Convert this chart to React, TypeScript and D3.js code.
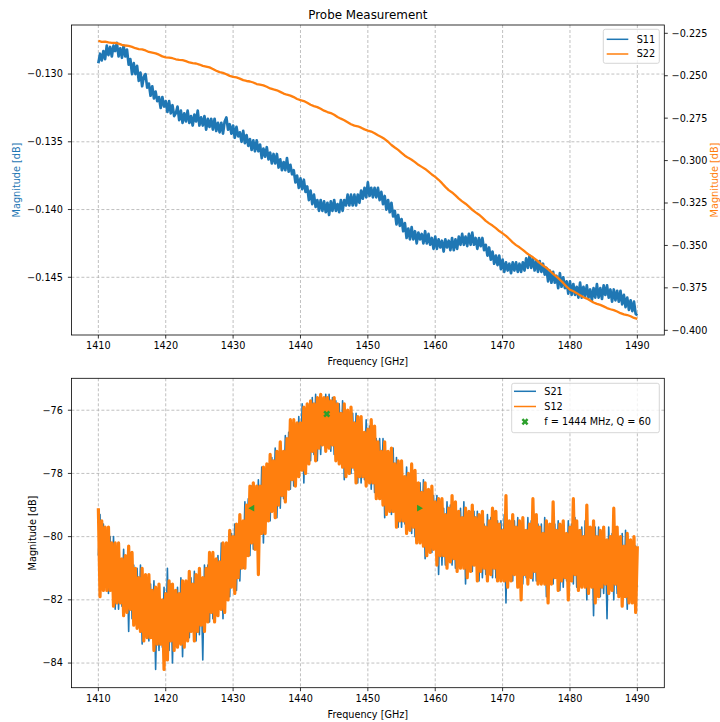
import React from 'react';
import * as d3 from 'd3';

// ---------------- DATA ----------------
const FREQ_START = 1410;
const FINE_STEP = 0.25; // GHz, S11 / S21 / S12
const COARSE_STEP = 0.5; // GHz, S22

const xTicks = [1410, 1420, 1430, 1440, 1450, 1460, 1470, 1480, 1490];
const topLeftTicks = [-0.145, -0.14, -0.135, -0.13];
const topRightTicks = [-0.4, -0.375, -0.35, -0.325, -0.3, -0.275, -0.25, -0.225];
const bottomTicks = [-84, -82, -80, -78, -76];

const s11: number[] = [
  -0.1292, -0.1285, -0.1290, -0.1283, -0.1289, -0.1279, -0.1286, -0.1280, -0.1287, -0.1279, -0.1283, -0.1277,
  -0.1287, -0.1281, -0.1288, -0.1279, -0.1287, -0.1282, -0.1293, -0.1289, -0.1300, -0.1292, -0.1300, -0.1294,
  -0.1305, -0.1299, -0.1309, -0.1302, -0.1300, -0.1310, -0.1307, -0.1316, -0.1309, -0.1318, -0.1313, -0.1320,
  -0.1317, -0.1325, -0.1317, -0.1324, -0.1320, -0.1328, -0.1320, -0.1329, -0.1323, -0.1331, -0.1329, -0.1324,
  -0.1334, -0.1327, -0.1336, -0.1329, -0.1335, -0.1327, -0.1336, -0.1331, -0.1338, -0.1330, -0.1335, -0.1327,
  -0.1338, -0.1332, -0.1338, -0.1331, -0.1341, -0.1333, -0.1339, -0.1333, -0.1341, -0.1333, -0.1342, -0.1336,
  -0.1343, -0.1336, -0.1344, -0.1335, -0.1332, -0.1341, -0.1337, -0.1344, -0.1338, -0.1347, -0.1339, -0.1346,
  -0.1343, -0.1350, -0.1342, -0.1351, -0.1345, -0.1353, -0.1348, -0.1356, -0.1349, -0.1357, -0.1349, -0.1357,
  -0.1352, -0.1362, -0.1355, -0.1361, -0.1354, -0.1363, -0.1358, -0.1366, -0.1359, -0.1366, -0.1359, -0.1369,
  -0.1363, -0.1371, -0.1365, -0.1371, -0.1362, -0.1372, -0.1367, -0.1374, -0.1371, -0.1380, -0.1375, -0.1384,
  -0.1377, -0.1385, -0.1378, -0.1387, -0.1383, -0.1393, -0.1386, -0.1396, -0.1389, -0.1398, -0.1393, -0.1401,
  -0.1393, -0.1401, -0.1394, -0.1402, -0.1395, -0.1404, -0.1394, -0.1401, -0.1393, -0.1401, -0.1396, -0.1402,
  -0.1393, -0.1401, -0.1393, -0.1397, -0.1389, -0.1397, -0.1389, -0.1397, -0.1389, -0.1397, -0.1389, -0.1395,
  -0.1386, -0.1392, -0.1384, -0.1391, -0.1380, -0.1390, -0.1384, -0.1391, -0.1384, -0.1391, -0.1384, -0.1393,
  -0.1387, -0.1396, -0.1390, -0.1400, -0.1393, -0.1402, -0.1395, -0.1405, -0.1401, -0.1411, -0.1404, -0.1412,
  -0.1407, -0.1416, -0.1410, -0.1421, -0.1414, -0.1422, -0.1413, -0.1422, -0.1416, -0.1425, -0.1417, -0.1422,
  -0.1418, -0.1425, -0.1416, -0.1425, -0.1418, -0.1426, -0.1421, -0.1429, -0.1420, -0.1429, -0.1422, -0.1428,
  -0.1423, -0.1431, -0.1422, -0.1428, -0.1423, -0.1430, -0.1421, -0.1430, -0.1422, -0.1429, -0.1420, -0.1426,
  -0.1418, -0.1426, -0.1420, -0.1427, -0.1418, -0.1426, -0.1417, -0.1426, -0.1421, -0.1429, -0.1421, -0.1427,
  -0.1421, -0.1430, -0.1426, -0.1434, -0.1428, -0.1437, -0.1431, -0.1440, -0.1434, -0.1441, -0.1434, -0.1444,
  -0.1437, -0.1446, -0.1439, -0.1445, -0.1440, -0.1447, -0.1439, -0.1445, -0.1439, -0.1446, -0.1440, -0.1446,
  -0.1439, -0.1445, -0.1436, -0.1443, -0.1434, -0.1443, -0.1436, -0.1445, -0.1438, -0.1446, -0.1438, -0.1446,
  -0.1440, -0.1448, -0.1443, -0.1453, -0.1445, -0.1454, -0.1446, -0.1454, -0.1449, -0.1458, -0.1447, -0.1457,
  -0.1450, -0.1458, -0.1453, -0.1462, -0.1453, -0.1463, -0.1455, -0.1463, -0.1457, -0.1465, -0.1454, -0.1465,
  -0.1457, -0.1464, -0.1456, -0.1465, -0.1459, -0.1467, -0.1458, -0.1465, -0.1455, -0.1465, -0.1458, -0.1466,
  -0.1456, -0.1463, -0.1456, -0.1465, -0.1459, -0.1468, -0.1459, -0.1467, -0.1460, -0.1468, -0.1460, -0.1470,
  -0.1463, -0.1472, -0.1465, -0.1474, -0.1467, -0.1475, -0.1468, -0.1477, -0.1478,
];

const s22: number[] = [
  -0.2294, -0.2301, -0.2299, -0.2304, -0.2306, -0.2307, -0.2311, -0.2318, -0.2322, -0.2324,
  -0.2330, -0.2338, -0.2343, -0.2345, -0.2351, -0.2360, -0.2364, -0.2368, -0.2376, -0.2386,
  -0.2392, -0.2393, -0.2397, -0.2403, -0.2406, -0.2408, -0.2414, -0.2422, -0.2426, -0.2428,
  -0.2434, -0.2442, -0.2446, -0.2451, -0.2460, -0.2471, -0.2479, -0.2483, -0.2491, -0.2501,
  -0.2507, -0.2510, -0.2517, -0.2526, -0.2531, -0.2534, -0.2540, -0.2549, -0.2553, -0.2557,
  -0.2565, -0.2575, -0.2581, -0.2586, -0.2595, -0.2605, -0.2612, -0.2617, -0.2626, -0.2637,
  -0.2644, -0.2649, -0.2659, -0.2671, -0.2679, -0.2685, -0.2695, -0.2706, -0.2714, -0.2720,
  -0.2730, -0.2743, -0.2753, -0.2762, -0.2774, -0.2786, -0.2794, -0.2798, -0.2806, -0.2816,
  -0.2823, -0.2829, -0.2839, -0.2851, -0.2861, -0.2873, -0.2889, -0.2908, -0.2923, -0.2937,
  -0.2954, -0.2971, -0.2984, -0.2995, -0.3009, -0.3025, -0.3037, -0.3049, -0.3065, -0.3082,
  -0.3096, -0.3113, -0.3133, -0.3155, -0.3174, -0.3188, -0.3205, -0.3224, -0.3240, -0.3254,
  -0.3271, -0.3290, -0.3305, -0.3319, -0.3336, -0.3355, -0.3370, -0.3383, -0.3398, -0.3415,
  -0.3429, -0.3444, -0.3462, -0.3482, -0.3498, -0.3511, -0.3526, -0.3543, -0.3557, -0.3570,
  -0.3585, -0.3603, -0.3618, -0.3632, -0.3649, -0.3668, -0.3684, -0.3702, -0.3721, -0.3743,
  -0.3761, -0.3770, -0.3781, -0.3794, -0.3805, -0.3813, -0.3824, -0.3836, -0.3844, -0.3850,
  -0.3859, -0.3869, -0.3876, -0.3881, -0.3889, -0.3899, -0.3906, -0.3910, -0.3917, -0.3927,
  -0.3933,
];

const s21: number[] = [
  -80.6, -79.3, -81.5, -79.6, -81.5, -79.9, -81.8, -80.0, -81.7, -80.0, -82.3, -80.5,
  -82.3, -80.7, -82.2, -80.4, -82.1, -80.6, -83.0, -80.5, -82.6, -80.9, -82.4, -81.0,
  -82.8, -80.9, -83.4, -81.3, -83.0, -81.4, -83.3, -81.5, -83.2, -81.4, -84.2, -81.8,
  -83.6, -82.0, -83.5, -81.6, -83.3, -81.0, -83.6, -81.5, -84.0, -81.7, -83.1, -81.6,
  -83.3, -81.3, -83.8, -81.5, -83.2, -81.5, -83.2, -81.3, -83.0, -81.1, -83.3, -81.4,
  -83.1, -81.4, -83.9, -80.9, -82.5, -80.9, -82.7, -80.6, -82.6, -80.8, -82.1, -80.6,
  -82.3, -80.2, -82.6, -80.4, -82.0, -80.2, -81.9, -79.9, -81.5, -79.6, -81.7, -79.7,
  -81.4, -79.6, -81.0, -78.9, -80.5, -78.8, -80.6, -78.4, -80.4, -78.5, -79.8, -78.2,
  -79.9, -77.8, -80.2, -77.9, -79.5, -77.7, -79.5, -77.5, -79.1, -77.2, -79.4, -77.4,
  -79.1, -77.3, -78.8, -76.8, -78.4, -76.7, -78.5, -76.4, -78.4, -76.5, -77.8, -76.2,
  -77.9, -75.8, -78.3, -76.0, -77.6, -75.9, -77.6, -75.6, -77.4, -75.5, -77.6, -75.6,
  -77.4, -75.7, -77.1, -75.5, -76.9, -75.5, -77.3, -75.6, -77.4, -75.7, -77.2, -75.8,
  -77.6, -75.7, -78.2, -76.1, -77.8, -76.2, -78.0, -76.1, -77.9, -76.1, -78.3, -76.5,
  -78.3, -76.7, -78.2, -76.3, -78.1, -76.5, -78.5, -76.5, -78.6, -76.9, -78.4, -76.9,
  -78.8, -76.9, -79.4, -77.3, -79.1, -77.4, -79.3, -77.2, -79.2, -77.5, -79.7, -77.8,
  -79.7, -78.1, -79.6, -77.8, -79.5, -78.0, -79.9, -78.1, -80.0, -78.3, -79.7, -78.3,
  -80.1, -78.2, -80.7, -78.6, -80.3, -78.7, -80.5, -78.7, -80.4, -78.7, -81.2, -79.0,
  -80.9, -79.1, -80.9, -78.9, -80.6, -79.0, -80.9, -79.1, -81.0, -79.2, -80.6, -79.1,
  -80.9, -78.9, -81.5, -79.3, -81.0, -79.3, -81.1, -79.2, -80.9, -79.2, -81.4, -79.5,
  -81.3, -79.6, -81.2, -79.3, -81.0, -79.4, -81.3, -79.2, -81.3, -79.5, -81.0, -79.5,
  -81.3, -79.3, -82.1, -79.6, -81.3, -79.6, -81.4, -79.5, -81.2, -79.4, -81.6, -79.7,
  -81.5, -79.8, -81.3, -79.4, -81.1, -79.5, -81.4, -79.3, -81.4, -79.6, -81.1, -79.6,
  -81.4, -79.4, -81.9, -79.7, -81.4, -79.7, -81.5, -79.6, -81.3, -79.5, -81.7, -79.8,
  -81.6, -79.9, -81.4, -79.5, -81.2, -79.6, -81.5, -79.4, -81.6, -79.8, -81.2, -79.7,
  -81.5, -79.5, -82.0, -79.8, -81.5, -79.8, -82.5, -79.7, -81.5, -79.7, -81.9, -80.0,
  -81.8, -80.1, -82.6, -79.7, -81.5, -79.9, -82.0, -79.7, -81.8, -80.0, -81.4, -79.9,
  -81.8, -79.8, -82.3, -80.1, -81.9, -80.3, -82.1, -80.3, -81.6,
];

const s12: number[] = [
  -79.1, -81.9, -79.5, -81.7, -79.7, -81.7, -79.7, -81.7, -80.2, -82.2, -80.2, -82.1,
  -80.2, -82.1, -80.7, -82.5, -80.6, -82.4, -80.3, -82.3, -80.5, -82.8, -81.0, -82.9,
  -81.3, -83.0, -81.0, -83.3, -81.2, -83.2, -81.2, -83.2, -81.7, -83.6, -81.6, -83.4,
  -81.5, -83.4, -82.0, -84.2, -81.8, -83.9, -81.4, -83.3, -81.5, -83.6, -81.7, -83.5,
  -81.8, -83.4, -81.4, -83.5, -81.4, -83.3, -81.1, -83.0, -81.5, -83.3, -81.2, -83.0,
  -81.0, -82.8, -81.3, -83.0, -81.0, -82.7, -80.5, -82.4, -80.5, -82.7, -80.7, -82.5,
  -80.8, -82.3, -80.2, -82.4, -80.2, -82.0, -79.8, -81.6, -80.0, -81.8, -79.6, -81.3,
  -79.3, -81.0, -79.5, -81.0, -79.0, -80.6, -78.4, -80.2, -78.3, -80.4, -78.4, -81.2,
  -78.4, -79.9, -77.8, -79.9, -77.7, -79.5, -77.4, -79.2, -77.6, -79.4, -77.3, -79.0,
  -77.0, -78.7, -77.3, -78.9, -76.9, -78.5, -76.3, -78.2, -76.3, -78.4, -76.4, -78.1,
  -76.4, -77.9, -75.9, -78.0, -75.8, -77.7, -75.7, -77.3, -75.8, -77.6, -75.6, -77.2,
  -75.5, -77.1, -75.6, -77.3, -75.6, -77.2, -75.7, -77.1, -75.6, -77.6, -75.8, -77.7,
  -76.1, -77.8, -75.8, -78.1, -76.0, -78.0, -75.9, -77.8, -76.4, -78.3, -76.2, -78.1,
  -76.2, -78.1, -76.7, -78.4, -76.6, -78.3, -76.3, -78.3, -76.5, -78.8, -77.0, -78.8,
  -77.3, -79.0, -77.0, -79.3, -77.3, -79.2, -77.2, -79.2, -77.7, -79.7, -77.6, -79.5,
  -77.6, -79.5, -78.1, -79.9, -78.0, -79.8, -77.7, -79.7, -77.9, -80.2, -78.3, -80.2,
  -78.6, -80.3, -78.3, -80.6, -78.5, -80.5, -78.4, -80.4, -78.9, -80.9, -78.8, -80.6,
  -78.8, -80.6, -79.3, -81.0, -79.1, -80.8, -78.7, -80.7, -78.9, -81.1, -79.2, -81.0,
  -79.4, -81.0, -79.1, -81.3, -79.2, -81.1, -79.0, -80.9, -79.4, -81.4, -79.3, -81.1,
  -79.2, -81.0, -79.7, -81.4, -79.5, -81.2, -79.1, -81.0, -79.2, -81.4, -79.6, -81.4,
  -79.8, -81.4, -78.7, -81.6, -79.5, -81.4, -79.3, -81.2, -79.7, -81.6, -79.5, -82.0,
  -79.4, -81.2, -79.8, -81.5, -79.6, -81.3, -78.8, -81.1, -79.3, -81.5, -79.7, -81.5,
  -79.9, -81.5, -79.5, -82.1, -79.6, -81.5, -78.9, -81.3, -79.8, -81.7, -79.6, -81.4,
  -79.5, -81.3, -79.9, -82.0, -79.7, -81.4, -78.8, -81.2, -79.5, -81.7, -79.8, -81.6,
  -80.0, -81.6, -79.0, -81.8, -79.7, -81.6, -79.5, -82.1, -80.0, -81.9, -79.8, -81.6,
  -79.7, -81.5, -80.1, -81.8, -80.0, -81.7, -79.1, -81.5, -79.7, -81.9, -80.0, -82.2,
  -80.3, -81.9, -79.9, -82.1, -80.1, -82.1, -80.0, -82.4, -80.3,
];

const markerFreqs = [1432.85, 1443.9, 1457.6];
const markerMags = [-79.1, -76.12, -79.1];
const markerShapes = ['<', 'X', '>'];

const topLegend = ['S11', 'S22'];
const bottomLegend = ['S21', 'S12', 'f = 1444 MHz, Q = 60'];

// ---------------- STYLE ----------------
const BLUE = '#1f77b4';
const ORANGE = '#ff7f0e';
const GREEN = '#2ca02c';
const FONT = '"DejaVu Sans", sans-serif';
const TICK_FS = 9.7;

const fmt = (v: number, d: number) => (v < 0 ? '\u2212' : '') + Math.abs(v).toFixed(d);

function markerPath(shape: string): { d: string; rot: number } {
  if (shape === 'X') return { d: d3.symbol(d3.symbolCross, 30)() as string, rot: 45 };
  return { d: d3.symbol(d3.symbolTriangle, 20)() as string, rot: shape === '<' ? -90 : 90 };
}

export default function App() {
  const fineF = s11.map((_, i) => FREQ_START + i * FINE_STEP);
  const coarseF = s22.map((_, i) => FREQ_START + i * COARSE_STEP);
  const fineF2 = s21.map((_, i) => FREQ_START + i * FINE_STEP);

  const L = 71.4, R = 664.3;
  const T1 = 25, B1 = 335;
  const T2 = 378.3, B2 = 687.7;

  const x = d3.scaleLinear().domain([1406, 1494]).range([L, R]);
  const yL = d3.scaleLinear().domain([-0.14926, -0.12638]).range([B1, T1]);
  const yR = d3.scaleLinear().domain([-0.40277, -0.22011]).range([B1, T1]);
  const yB = d3.scaleLinear().domain([-84.78, -74.99]).range([B2, T2]);

  const lineS11 = d3.line<number>().x((_, i) => x(fineF[i])).y((d) => yL(d))(s11) as string;
  const lineS22 = d3.line<number>().x((_, i) => x(coarseF[i])).y((d) => yR(d))(s22) as string;
  const lineS21 = d3.line<number>().x((_, i) => x(fineF2[i])).y((d) => yB(d))(s21) as string;
  const lineS12 = d3.line<number>().x((_, i) => x(fineF2[i])).y((d) => yB(d))(s12) as string;

  const grid = { stroke: '#b0b0b0', strokeWidth: 0.8, strokeDasharray: '3,2' };
  const textStyle = { fontFamily: FONT, fontSize: TICK_FS, fill: '#000' } as const;

  const xAxis = (bottom: number) => (
    <g>
      {xTicks.map((t) => (
        <g key={t}>
          <line x1={x(t)} x2={x(t)} y1={bottom} y2={bottom + 3.5} stroke="#000" strokeWidth={0.8} />
          <text x={x(t)} y={bottom + 14.3} textAnchor="middle" style={textStyle}>{t}</text>
        </g>
      ))}
      <text x={(L + R) / 2} y={bottom + 30} textAnchor="middle" style={textStyle}>Frequency [GHz]</text>
    </g>
  );

  return (
    <svg width={720} height={722} style={{ position: 'absolute', left: 0, top: 0, background: '#fff' }}>
      <defs>
        <clipPath id="clipTop"><rect x={L} y={T1} width={R - L} height={B1 - T1} /></clipPath>
        <clipPath id="clipBot"><rect x={L} y={T2} width={R - L} height={B2 - T2} /></clipPath>
      </defs>
      <rect x={0} y={0} width={720} height={722} fill="#fff" />

      {/* ---------- TOP PANEL ---------- */}
      <text x={(L + R) / 2} y={19.3} textAnchor="middle" style={{ fontFamily: FONT, fontSize: 11.9, fill: '#000' }}>Probe Measurement</text>
      {xTicks.map((t) => <line key={'gx' + t} x1={x(t)} x2={x(t)} y1={T1} y2={B1} {...grid} />)}
      {topLeftTicks.map((t) => <line key={'gy' + t} x1={L} x2={R} y1={yL(t)} y2={yL(t)} {...grid} />)}
      <g clipPath="url(#clipTop)">
        <path d={lineS11} fill="none" stroke={BLUE} strokeWidth={2.7} strokeLinejoin="round" />
        <path d={lineS22} fill="none" stroke={ORANGE} strokeWidth={2.3} strokeLinejoin="round" />
      </g>
      <rect x={L} y={T1} width={R - L} height={B1 - T1} fill="none" stroke="#000" strokeWidth={0.8} />
      {xAxis(B1)}
      {topLeftTicks.map((t) => (
        <g key={'lt' + t}>
          <line x1={L - 3.5} x2={L} y1={yL(t)} y2={yL(t)} stroke="#000" strokeWidth={0.8} />
          <text x={L - 8.5} y={yL(t)} dy="0.35em" textAnchor="end" style={textStyle}>{fmt(t, 3)}</text>
        </g>
      ))}
      {topRightTicks.map((t) => (
        <g key={'rt' + t}>
          <line x1={R} x2={R + 3.5} y1={yR(t)} y2={yR(t)} stroke="#000" strokeWidth={0.8} />
          <text x={R + 7.3} y={yR(t)} dy="0.35em" textAnchor="start" style={textStyle}>{fmt(t, 3)}</text>
        </g>
      ))}
      <text transform={`translate(16.7,${(T1 + B1) / 2}) rotate(-90)`} textAnchor="middle" dy="0.35em"
        style={{ fontFamily: FONT, fontSize: TICK_FS, fill: BLUE }}>Magnitude [dB]</text>
      <text transform={`translate(714.2,${(T1 + B1) / 2}) rotate(-90)`} textAnchor="middle" dy="0.35em"
        style={{ fontFamily: FONT, fontSize: TICK_FS, fill: ORANGE }}>Magnitude [dB]</text>
      {/* top legend */}
      <g>
        <rect x={603.3} y={29.3} width={56} height={34} rx={2} fill="#fff" fillOpacity={0.8} stroke="#cccccc" strokeWidth={0.8} />
        {topLegend.map((name, i) => (
          <g key={name}>
            <line x1={606.7} x2={628.3} y1={39.3 + i * 14.7} y2={39.3 + i * 14.7} stroke={i === 0 ? BLUE : ORANGE} strokeWidth={1.5} />
            <text x={636.7} y={39.3 + i * 14.7} dy="0.35em" style={textStyle}>{name}</text>
          </g>
        ))}
      </g>

      {/* ---------- BOTTOM PANEL ---------- */}
      {xTicks.map((t) => <line key={'bgx' + t} x1={x(t)} x2={x(t)} y1={T2} y2={B2} {...grid} />)}
      {bottomTicks.map((t) => <line key={'bgy' + t} x1={L} x2={R} y1={yB(t)} y2={yB(t)} {...grid} />)}
      <g clipPath="url(#clipBot)">
        <path d={lineS21} fill="none" stroke={BLUE} strokeWidth={1.6} strokeLinejoin="round" />
        <path d={lineS12} fill="none" stroke={ORANGE} strokeWidth={3.2} strokeLinejoin="round" />
        {markerFreqs.map((f, i) => {
          const m = markerPath(markerShapes[i]);
          return <path key={'mk' + i} d={m.d} transform={`translate(${x(f)},${yB(markerMags[i])}) rotate(${m.rot})`} fill={GREEN} />;
        })}
      </g>
      <rect x={L} y={T2} width={R - L} height={B2 - T2} fill="none" stroke="#000" strokeWidth={0.8} />
      {xAxis(B2)}
      {bottomTicks.map((t) => (
        <g key={'bt' + t}>
          <line x1={L - 3.5} x2={L} y1={yB(t)} y2={yB(t)} stroke="#000" strokeWidth={0.8} />
          <text x={L - 8.5} y={yB(t)} dy="0.35em" textAnchor="end" style={textStyle}>{fmt(t, 0)}</text>
        </g>
      ))}
      <text transform={`translate(32.3,${(T2 + B2) / 2}) rotate(-90)`} textAnchor="middle" dy="0.35em"
        style={textStyle}>Magnitude [dB]</text>
      {/* bottom legend */}
      <g>
        <rect x={511.7} y={383.3} width={147.6} height={49.4} rx={2} fill="#fff" fillOpacity={0.8} stroke="#cccccc" strokeWidth={0.8} />
        {bottomLegend.map((name, i) => {
          const yy = 391.3 + i * 15.2;
          const m = markerPath('X');
          return (
            <g key={name}>
              {i < 2 ? (
                <line x1={514} x2={536} y1={yy} y2={yy} stroke={i === 0 ? BLUE : ORANGE} strokeWidth={1.5} />
              ) : (
                <path d={m.d} transform={`translate(525,${yy}) rotate(${m.rot})`} fill={GREEN} />
              )}
              <text x={544.3} y={yy} dy="0.35em" style={textStyle}>{name}</text>
            </g>
          );
        })}
      </g>
    </svg>
  );
}
